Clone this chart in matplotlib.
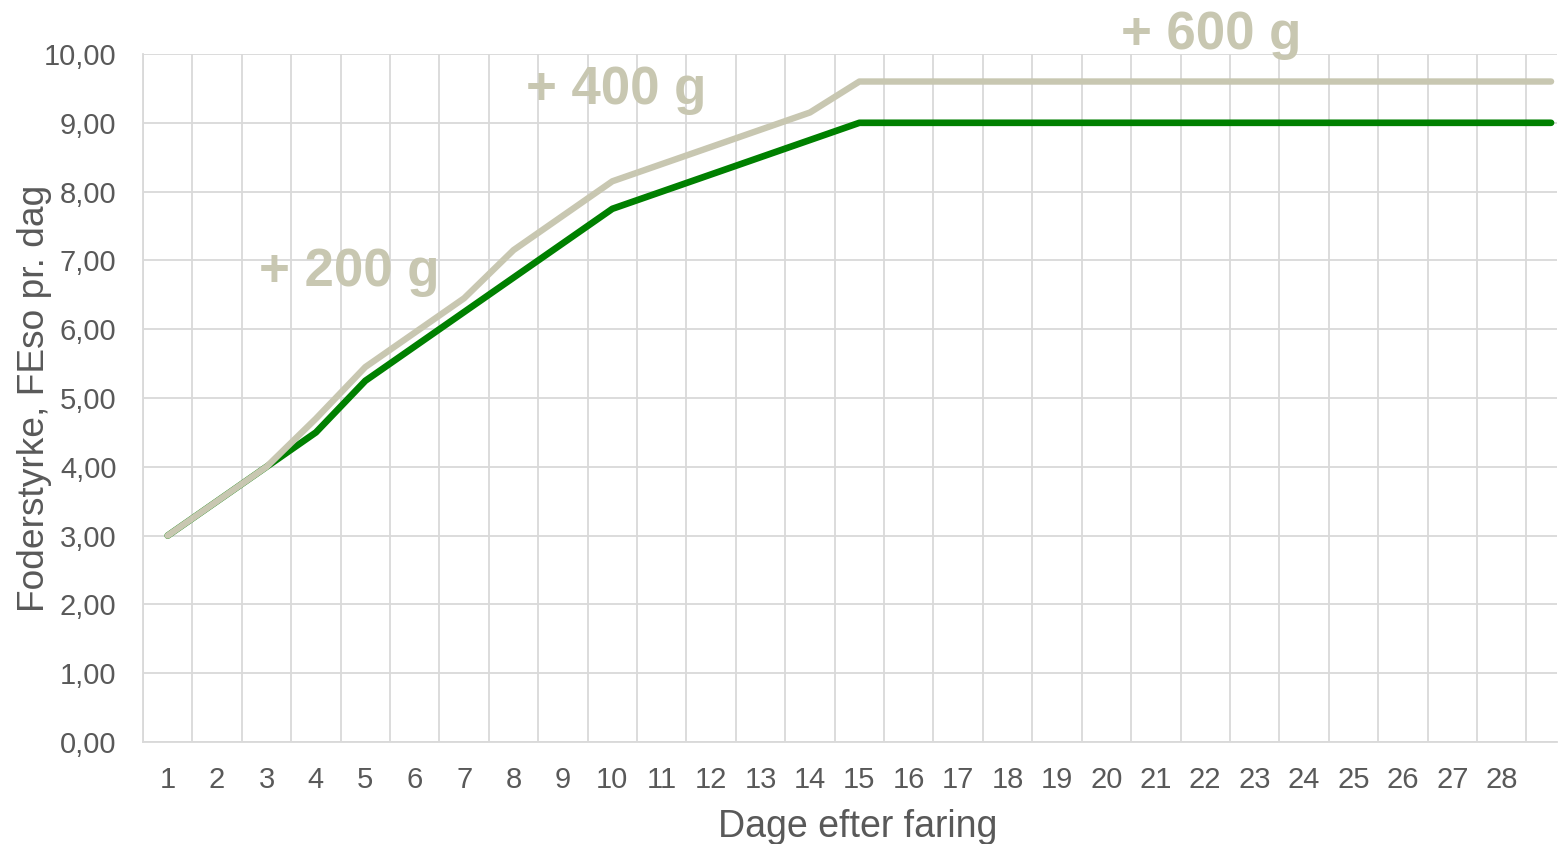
import numpy as np
import matplotlib
matplotlib.use("Agg")
import matplotlib.pyplot as plt

plt.rcParams['font.family'] = ['Liberation Sans', 'DejaVu Sans']

days = list(range(1, 30))
day_labels = [str(d) for d in range(1, 29)] + [""]

normal_feed = [3.00, 3.50, 4.00, 4.50, 5.25, 5.75, 6.25, 6.75, 7.25, 7.75,
               8.00, 8.25, 8.50, 8.75, 9.00, 9.00, 9.00, 9.00, 9.00, 9.00,
               9.00, 9.00, 9.00, 9.00, 9.00, 9.00, 9.00, 9.00, 9.00]
extra_feed = [3.00, 3.50, 4.00, 4.70, 5.45, 5.95, 6.45, 7.15, 7.65, 8.15,
              8.40, 8.65, 8.90, 9.15, 9.60, 9.60, 9.60, 9.60, 9.60, 9.60,
              9.60, 9.60, 9.60, 9.60, 9.60, 9.60, 9.60, 9.60, 9.60]

notes = ["+ 200 g", "+ 400 g", "+ 600 g"]
note_pos = [(4.68, 6.83), (10.07, 9.48), (22.13, 10.28)]

W, H = 1559, 844
fig = plt.figure(figsize=(W / 100, H / 100), dpi=100)
ax = fig.add_axes([143 / W, 1 - 742 / H, (1557 - 143) / W, (742 - 54) / H])

ax.plot(days, normal_feed, color="#008000", lw=4.8, solid_capstyle="round",
        solid_joinstyle="round", zorder=3)
ax.plot(days, extra_feed, color="#C8C7B1", lw=4.6, solid_capstyle="round",
        solid_joinstyle="round", zorder=4)

for txt, (x, y) in zip(notes, note_pos):
    ax.text(x, y, txt, color="#C8C7B1", fontsize=38, fontweight="bold",
            ha="center", va="center", clip_on=False, zorder=5)

ax.set_xlim(0.5, 29.12)
ax.set_ylim(0, 10)
ax.set_xticks(days, labels=day_labels)
ax.set_xticks(np.arange(0.5, 29.5, 1), minor=True)
ax.set_yticks(np.arange(0, 11, 1), labels=[f"{v:.2f}".replace(".", ",") for v in range(0, 11)])
ax.tick_params(axis="both", which="both", length=0, labelsize=21, colors="#595959")
ax.tick_params(axis="x", pad=17.5)
ax.tick_params(axis="y", pad=19)

ax.grid(True, axis="y", which="major", color="#D9D9D9", lw=1.3)
ax.grid(True, axis="x", which="minor", color="#D9D9D9", lw=1.3)
ax.grid(False, axis="x", which="major")
ax.set_axisbelow(True)

for side in ["top", "right"]:
    ax.spines[side].set_visible(False)
ax.spines["left"].set_color("#D9D9D9")
ax.spines["bottom"].set_color("#D9D9D9")
ax.spines["left"].set_linewidth(1.3)
ax.spines["bottom"].set_linewidth(1.3)

ax.set_xlabel("Dage efter faring", fontsize=27, color="#595959", va="center")
ax.xaxis.set_label_coords((858 - 143) / 1414, -(827 - 742) / 688)
ax.set_ylabel("Foderstyrke, FEso pr. dag", fontsize=26.7, color="#595959", va="center")
ax.yaxis.set_label_coords(-(143 - 35) / 1414, 0.5)

fig.savefig("out.png", dpi=100)
